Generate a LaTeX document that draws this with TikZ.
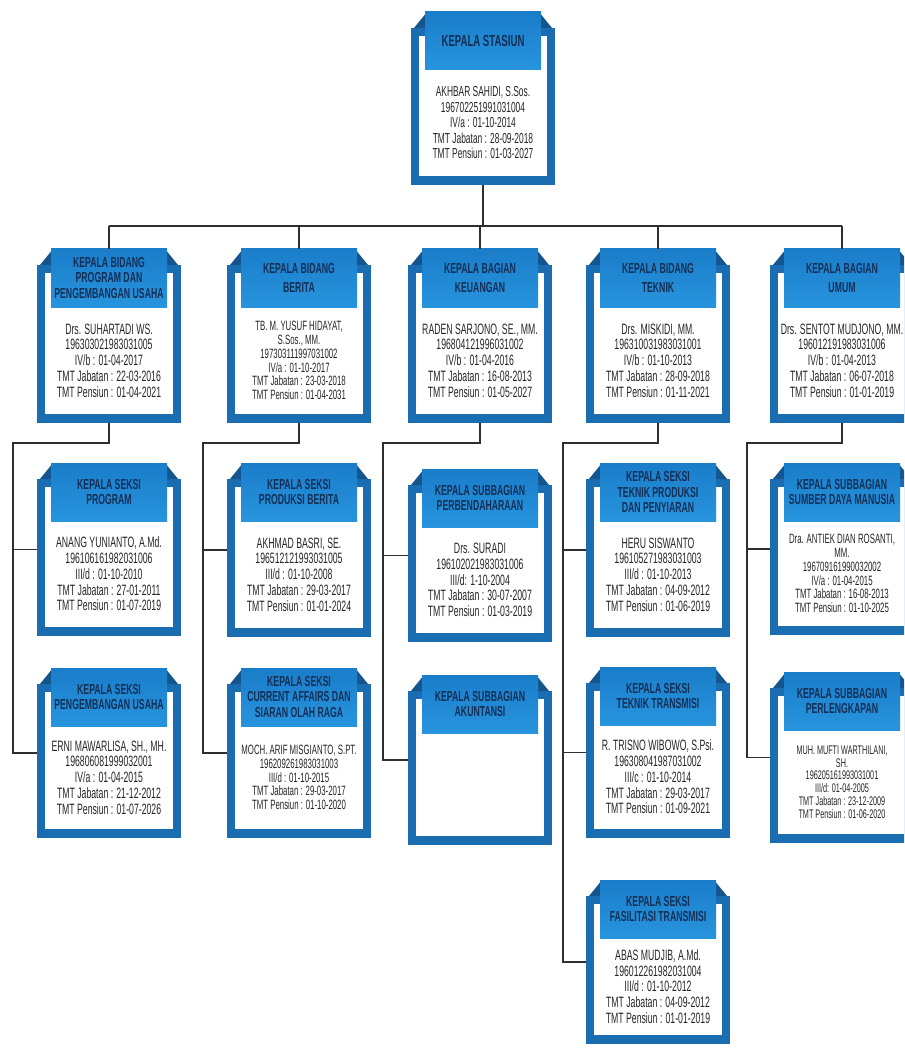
\documentclass[tikz,border=0pt]{standalone}
\usepackage{fontspec}
\newfontfamily\nfont[FakeStretch=0.58]{Liberation Sans}
\newfontfamily\hfont[FakeStretch=0.6]{Liberation Sans}
\definecolor{framec}{HTML}{1B6DB2}
\definecolor{earc}{HTML}{14558E}
\definecolor{headtop}{HTML}{1A7DC9}
\definecolor{headbot}{HTML}{2894DE}
\definecolor{headtxt}{HTML}{142F55}
\definecolor{bodytxt}{HTML}{262626}
\definecolor{linec}{HTML}{2E2E2E}
\tikzset{
  conn/.style={draw=linec, line width=1.2pt},
  hdtext/.style={font=\hfont\bfseries\fontsize{14.5}{15.5}\selectfont, text=headtxt, align=center, inner sep=0pt},
  hd2/.style={font=\hfont\bfseries\fontsize{14.5}{19}\selectfont},
  hdtop/.style={font=\hfont\bfseries\fontsize{16}{18}\selectfont},
  bdtext/.style={font=\nfont\fontsize{15}{15.8}\selectfont, text=bodytxt, align=center, inner sep=0pt},
  bdtop/.style={font=\nfont\fontsize{14.5}{15.5}\selectfont},
  bdsmall/.style={font=\nfont\fontsize{13.5}{13.8}\selectfont},
  bdtiny/.style={font=\nfont\fontsize{12.5}{12.8}\selectfont},
  anchorbox/.style={inner sep=0pt, minimum width=144pt, draw=none},
}
% #1 name, #2 cx, #3 tab top, #4 bottom, #5 header opts, #6 header, #7 body opts, #8 body
\newcommand{\orgbox}[8]{%
  \pgfmathsetmacro\bxL{#2-72}\pgfmathsetmacro\bxR{#2+72}%
  \pgfmathsetmacro\bxS{#3+16}\pgfmathsetmacro\bxH{#4-#3}%
  \pgfmathsetmacro\bxM{(#3+#4)/2}%
  \pgfmathsetmacro\hdB{#3+58}\pgfmathsetmacro\hdM{#3+29}%
  \pgfmathsetmacro\bdM{(#3+58+#4-9)/2}%
  \fill[framec] (\bxL,\bxS) rectangle (\bxR,#4);
  \fill[earc] (\bxL+3,\bxS) -- (#2-56,#3) -- (#2+56,#3) -- (\bxR-3,\bxS) -- cycle;
  \fill[white] (\bxL+8,\bxS+8) rectangle (\bxR-8,#4-9);
  \shade[top color=headtop, bottom color=headbot] (#2-58,#3) rectangle (#2+58,\hdB);
  \node[hdtext,#5] (#1h) at (#2,\hdM) {#6};
  \node[bdtext,#7] (#1t) at (#2,\bdM) {#8};
  \node[anchorbox, minimum height=\bxH pt] (#1) at (#2,\bxM) {};
}
\begin{document}
\begin{tikzpicture}[x=1pt,y=-1pt]
\useasboundingbox (0,0) rectangle (904,1048);
\clip (0,0) rectangle (904,1048);
\fill[white] (0,0) rectangle (904,1048);

% ---------- level 1
\orgbox{ks}{483}{12}{185}{hdtop}{KEPALA STASIUN}{bdtop}{AKHBAR SAHIDI, S.Sos.\\196702251991031004\\IV/a : 01-10-2014\\TMT Jabatan : 28-09-2018\\TMT Pensiun : 01-03-2027}

% ---------- level 2
\orgbox{b1}{109}{249}{423}{}{KEPALA BIDANG\\PROGRAM DAN\\PENGEMBANGAN USAHA}{}{Drs. SUHARTADI WS.\\196303021983031005\\IV/b : 01-04-2017\\TMT Jabatan : 22-03-2016\\TMT Pensiun : 01-04-2021}
\orgbox{b2}{299}{249}{423}{hd2}{KEPALA BIDANG\\BERITA}{bdsmall}{TB. M. YUSUF HIDAYAT,\\S.Sos., MM.\\197303111997031002\\IV/a : 01-10-2017\\TMT Jabatan : 23-03-2018\\TMT Pensiun : 01-04-2031}
\orgbox{b3}{480}{249}{423}{hd2}{KEPALA BAGIAN\\KEUANGAN}{}{RADEN SARJONO, SE., MM.\\196804121996031002\\IV/b : 01-04-2016\\TMT Jabatan : 16-08-2013\\TMT Pensiun : 01-05-2027}
\orgbox{b4}{658}{249}{423}{hd2}{KEPALA BIDANG\\TEKNIK}{}{Drs. MISKIDI, MM.\\196310031983031001\\IV/b : 01-10-2013\\TMT Jabatan : 28-09-2018\\TMT Pensiun : 01-11-2021}
\orgbox{b5}{842}{249}{423}{hd2}{KEPALA BAGIAN\\UMUM}{}{Drs. SENTOT MUDJONO, MM.\\196012191983031006\\IV/b : 01-04-2013\\TMT Jabatan : 06-07-2018\\TMT Pensiun : 01-01-2019}

% ---------- level 3
\orgbox{c1a}{109}{463}{636}{}{KEPALA SEKSI\\PROGRAM}{}{ANANG YUNIANTO, A.Md.\\196106161982031006\\III/d : 01-10-2010\\TMT Jabatan : 27-01-2011\\TMT Pensiun : 01-07-2019}
\orgbox{c1b}{109}{668}{838}{}{KEPALA SEKSI\\PENGEMBANGAN USAHA}{}{ERNI MAWARLISA, SH., MH.\\196806081999032001\\IV/a : 01-04-2015\\TMT Jabatan : 21-12-2012\\TMT Pensiun : 01-07-2026}
\orgbox{c2a}{299}{463}{637}{}{KEPALA SEKSI\\PRODUKSI BERITA}{}{AKHMAD BASRI, SE.\\196512121993031005\\III/d : 01-10-2008\\TMT Jabatan : 29-03-2017\\TMT Pensiun : 01-01-2024}
\orgbox{c2b}{299}{668}{838}{}{KEPALA SEKSI\\CURRENT AFFAIRS DAN\\SIARAN OLAH RAGA}{bdsmall}{MOCH. ARIF MISGIANTO, S.PT.\\196209261983031003\\III/d : 01-10-2015\\TMT Jabatan : 29-03-2017\\TMT Pensiun : 01-10-2020}
\orgbox{c3a}{480}{469}{642}{}{KEPALA SUBBAGIAN\\PERBENDAHARAAN}{}{Drs. SURADI\\196102021983031006\\III/d: 1-10-2004\\TMT Jabatan : 30-07-2007\\TMT Pensiun : 01-03-2019}
\orgbox{c3b}{480}{675}{845}{}{KEPALA SUBBAGIAN\\AKUNTANSI}{}{}
\orgbox{c4a}{658}{463}{637}{}{KEPALA SEKSI\\TEKNIK PRODUKSI\\DAN PENYIARAN}{}{HERU SISWANTO\\196105271983031003\\III/d : 01-10-2013\\TMT Jabatan : 04-09-2012\\TMT Pensiun : 01-06-2019}
\orgbox{c4b}{658}{667}{838}{}{KEPALA SEKSI\\TEKNIK TRANSMISI}{}{R. TRISNO WIBOWO, S.Psi.\\196308041987031002\\III/c : 01-10-2014\\TMT Jabatan : 29-03-2017\\TMT Pensiun : 01-09-2021}
\orgbox{c4c}{658}{880}{1044}{}{KEPALA SEKSI\\FASILITASI TRANSMISI}{}{ABAS MUDJIB, A.Md.\\196012261982031004\\III/d : 01-10-2012\\TMT Jabatan : 04-09-2012\\TMT Pensiun : 01-01-2019}
\orgbox{c5a}{842}{463}{635}{}{KEPALA SUBBAGIAN\\SUMBER DAYA MANUSIA}{bdsmall}{Dra. ANTIEK DIAN ROSANTI,\\MM.\\196709161990032002\\IV/a : 01-04-2015\\TMT Jabatan : 16-08-2013\\TMT Pensiun : 01-10-2025}
\orgbox{c5b}{842}{672}{843}{}{KEPALA SUBBAGIAN\\PERLENGKAPAN}{bdtiny}{MUH. MUFTI WARTHILANI,\\SH.\\196205161993031001\\III/d: 01-04-2005\\TMT Jabatan : 23-12-2009\\TMT Pensiun : 01-06-2020}

% ---------- connectors
\coordinate (bus) at (0,226);
\draw[conn] (ks.south) -- (ks.south |- bus);
\draw[conn] (b1.north |- bus) -- (b5.north |- bus);
\foreach \n in {b1,b2,b3,b4,b5} \draw[conn] (\n.north |- bus) -- (\n.north);

\coordinate (r1) at (13,443);
\coordinate (r2) at (203,443);
\coordinate (r3) at (383,443);
\coordinate (r4) at (563,443);
\coordinate (r5) at (747,443);

\draw[conn] (b1.south) |- (r1) -- (r1 |- c1b.west) -- (c1b.west);
\draw[conn] (r1 |- c1a.west) -- (c1a.west);
\draw[conn] (b2.south) |- (r2) -- (r2 |- c2b.west) -- (c2b.west);
\draw[conn] (r2 |- c2a.west) -- (c2a.west);
\draw[conn] (b3.south) |- (r3) -- (r3 |- c3b.west) -- (c3b.west);
\draw[conn] (r3 |- c3a.west) -- (c3a.west);
\draw[conn] (b4.south) |- (r4) -- (r4 |- c4c.west) -- (c4c.west);
\draw[conn] (r4 |- c4a.west) -- (c4a.west);
\draw[conn] (r4 |- c4b.west) -- (c4b.west);
\draw[conn] (b5.south) |- (r5) -- (r5 |- c5b.west) -- (c5b.west);
\draw[conn] (r5 |- c5a.west) -- (c5a.west);
\end{tikzpicture}
\end{document}
